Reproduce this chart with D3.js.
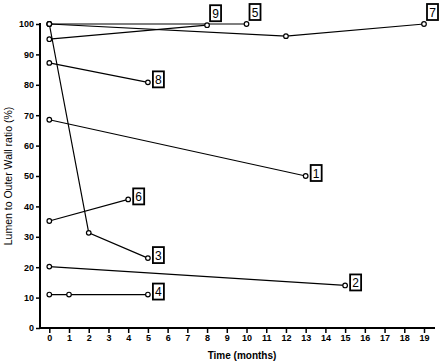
<!DOCTYPE html>
<meta charset="utf-8">
<style>
    body { margin: 0; background: #fff; }
    svg { display: block; font-family: "Liberation Sans", Arial, sans-serif; }
    .tick text { font-size: 9px; font-weight: bold; }
    .series path { fill: none; stroke: #000; stroke-width: 1.2px; }
    .series circle { fill: #fff; stroke: #000; stroke-width: 1.2px; }
</style>
<svg width="440" height="363"></svg>
<script src="https://d3js.org/d3.v7.min.js"></script>
<script>
    // one entry per patient: months and lumen / outer wall ratio (%)
    var patients = ["1", "2", "3", "4", "5", "6", "7", "8", "9"];
    var months = [
        [0, 13],
        [0, 15],
        [0, 2, 5],
        [0, 1, 5],
        [0, 10],
        [0, 4],
        [0, 12, 19],
        [0, 5],
        [0, 8]
    ];
    var ratios = [
        [68.5, 50],
        [20.2, 14],
        [100, 31.3, 23],
        [11, 11, 11],
        [100, 100],
        [35.2, 42.3],
        [100, 96, 100],
        [87.2, 80.8],
        [95, 99.6]
    ];
    var xTicks = d3.range(0, 20);
    var yTicks = d3.range(0, 101, 10);

    var svg = d3.select("svg");

    var x = d3.scaleLinear().domain([0, 19]).range([49.3, 424]);
    var y = d3.scaleLinear().domain([0, 100]).range([328, 24]);

    // axes
    var yAxis = svg.append("g")
        .attr("transform", "translate(40,0)")
        .call(d3.axisLeft(y).tickValues(yTicks).tickSize(4).tickPadding(2));
    var xAxis = svg.append("g")
        .attr("transform", "translate(0,328)")
        .call(d3.axisBottom(x).tickValues(xTicks).tickSize(5).tickPadding(2));

    [yAxis, xAxis].forEach(function(a) {
        a.select(".domain").remove();
        a.selectAll(".tick line").attr("stroke", "#000").attr("stroke-width", 1.5);
        a.selectAll(".tick text").attr("fill", "#000");
    });

    svg.append("line")
        .attr("x1", 40).attr("x2", 40)
        .attr("y1", 23).attr("y2", 329)
        .attr("stroke", "#000").attr("stroke-width", 2);
    svg.append("line")
        .attr("x1", 39).attr("x2", 435)
        .attr("y1", 328).attr("y2", 328)
        .attr("stroke", "#000").attr("stroke-width", 2);

    svg.append("text")
        .attr("x", 242).attr("y", 359)
        .attr("text-anchor", "middle")
        .attr("font-size", "10px").attr("font-weight", "bold")
        .text("Time (months)");

    svg.append("text")
        .attr("transform", "translate(12,176) rotate(-90)")
        .attr("text-anchor", "middle")
        .attr("font-size", "10.5px")
        .text("Lumen to Outer Wall ratio (%)");

    var line = d3.line()
        .x(function(d) { return x(d[0]); })
        .y(function(d) { return y(d[1]); });

    var series = svg.append("g").attr("class", "series")
        .selectAll("g")
        .data(patients.map(function(p, i) {
            return { id: p, pts: months[i].map(function(m, j) { return [m, ratios[i][j]]; }) };
        }))
        .enter().append("g");

    series.append("path").attr("d", function(d) { return line(d.pts); });

    series.selectAll("circle")
        .data(function(d) { return d.pts; })
        .enter().append("circle")
        .attr("cx", function(d) { return x(d[0]); })
        .attr("cy", function(d) { return y(d[1]); })
        .attr("r", 2.3);

    // boxed patient number at the last point
    var labels = series.append("g")
        .attr("transform", function(d) {
            var last = d.pts[d.pts.length - 1];
            var px = x(last[0]), py = y(last[1]);
            // points at the top edge get their box above
            if (last[1] >= 99) return "translate(" + (px + 3) + "," + (py - 20) + ")";
            return "translate(" + (px + 5) + "," + (py - 11) + ")";
        });

    labels.append("rect")
        .attr("width", 11).attr("height", 16)
        .attr("fill", "#fff").attr("stroke", "#000").attr("stroke-width", 1.8);

    labels.append("text")
        .attr("x", 5.5).attr("y", 12.5)
        .attr("text-anchor", "middle")
        .attr("font-size", "12px")
        .text(function(d) { return d.id; });
</script>
